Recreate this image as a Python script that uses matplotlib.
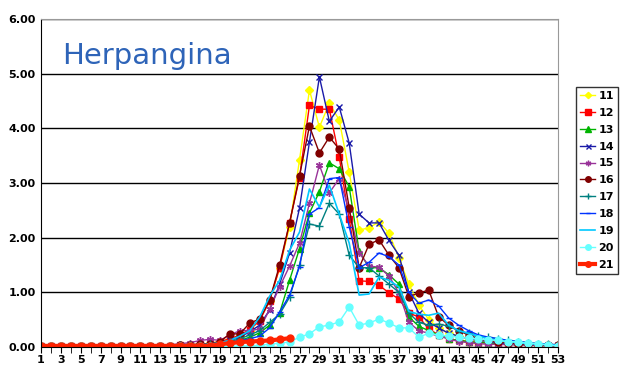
import numpy as np
import matplotlib
matplotlib.use('Agg')
import matplotlib.pyplot as plt

weeks = list(range(1, 54))

# weekly values per year
s11 = [0.02,0.02,0.01,0.01,0.01,0.01,0.01,0.01,0.01,0.01,0.01,0.01,0.02,0.02,0.03,0.04,0.05,0.07,
       0.10,0.15,0.20,0.30,0.50,0.85,1.45,2.20,3.42,4.70,4.02,4.46,4.15,3.20,2.14,2.18,2.29,2.08,
       1.63,1.15,0.77,0.50,0.35,0.25,0.20,0.15,0.12,0.10,0.08,0.07,0.05,0.05,0.04,0.03,0.03]
s12 = [0.02,0.02,0.02,0.01,0.01,0.01,0.01,0.01,0.01,0.01,0.01,0.01,0.02,0.02,0.03,0.04,0.05,0.06,
       0.10,0.15,0.22,0.32,0.48,0.85,1.45,2.27,3.10,4.42,4.35,4.35,3.47,2.34,1.21,1.20,1.13,0.99,
       0.88,0.62,0.55,0.33,0.22,0.15,0.12,0.10,0.08,0.08,0.06,0.05,0.05,0.04,0.03,0.02,0.02]
s13 = [0.01,0.01,0.01,0.01,0.01,0.01,0.01,0.01,0.01,0.01,0.01,0.01,0.01,0.02,0.02,0.03,0.03,0.04,
       0.06,0.08,0.12,0.18,0.26,0.40,0.62,1.22,1.80,2.45,2.84,3.37,3.26,2.93,1.75,1.45,1.45,1.32,
       1.15,0.55,0.38,0.30,0.22,0.15,0.12,0.10,0.08,0.07,0.06,0.05,0.04,0.04,0.03,0.03,0.02]
s14 = [0.01,0.01,0.01,0.01,0.01,0.01,0.01,0.01,0.01,0.01,0.01,0.01,0.02,0.02,0.03,0.04,0.05,0.06,
       0.08,0.12,0.18,0.28,0.40,0.68,1.15,1.72,2.54,3.75,4.94,4.13,4.39,3.73,2.43,2.27,2.27,1.95,
       1.68,1.00,0.62,0.45,0.35,0.25,0.20,0.15,0.12,0.10,0.08,0.06,0.05,0.05,0.04,0.03,0.03]
s15 = [0.01,0.01,0.01,0.01,0.01,0.01,0.01,0.01,0.01,0.01,0.02,0.02,0.03,0.04,0.06,0.08,0.12,0.14,
       0.12,0.22,0.30,0.30,0.33,0.69,1.10,1.48,1.90,2.63,3.33,2.82,3.08,2.50,1.72,1.48,1.46,1.30,
       0.99,0.45,0.30,0.25,0.20,0.15,0.10,0.08,0.06,0.05,0.05,0.04,0.04,0.03,0.03,0.02,0.02]
s16 = [0.01,0.01,0.01,0.01,0.01,0.01,0.01,0.01,0.01,0.01,0.01,0.01,0.02,0.02,0.03,0.04,0.05,0.06,
       0.10,0.24,0.24,0.44,0.51,0.86,1.50,2.27,3.13,4.04,3.55,3.84,3.62,2.55,1.45,1.88,1.96,1.68,
       1.45,0.92,0.99,1.04,0.55,0.40,0.30,0.22,0.15,0.12,0.10,0.08,0.06,0.05,0.04,0.03,0.03]
s17 = [0.01,0.01,0.01,0.01,0.01,0.01,0.01,0.01,0.01,0.01,0.01,0.01,0.02,0.02,0.03,0.03,0.04,0.05,
       0.06,0.10,0.15,0.22,0.30,0.45,0.60,0.91,1.50,2.25,2.21,2.63,2.43,1.68,1.45,1.45,1.30,1.15,
       1.00,0.62,0.45,0.40,0.42,0.38,0.30,0.25,0.20,0.18,0.15,0.12,0.10,0.08,0.06,0.05,0.04]
s18 = [0.01,0.01,0.01,0.01,0.01,0.01,0.01,0.01,0.01,0.01,0.01,0.01,0.02,0.02,0.02,0.03,0.04,0.04,
       0.05,0.08,0.12,0.15,0.20,0.35,0.64,0.95,1.47,2.43,2.55,3.08,3.10,2.20,1.45,1.55,1.72,1.65,
       1.50,1.00,0.80,0.86,0.75,0.53,0.40,0.30,0.22,0.18,0.15,0.12,0.10,0.08,0.06,0.05,0.04]
s19 = [0.01,0.01,0.01,0.01,0.01,0.01,0.01,0.01,0.01,0.01,0.01,0.01,0.02,0.02,0.02,0.03,0.04,0.05,
       0.08,0.12,0.20,0.30,0.55,0.93,1.22,1.77,2.10,2.89,2.56,2.96,2.43,1.90,0.95,0.97,1.28,1.22,
       1.10,0.65,0.60,0.58,0.62,0.40,0.30,0.25,0.20,0.15,0.12,0.10,0.08,0.06,0.05,0.04,0.03]
s20 = [0.01,0.01,0.01,0.01,0.01,0.01,0.01,0.01,0.01,0.01,0.01,0.01,0.01,0.01,0.01,0.01,0.01,0.01,
       0.01,0.01,0.02,0.02,0.03,0.05,0.07,0.09,0.18,0.24,0.37,0.40,0.46,0.73,0.40,0.44,0.51,0.44,
       0.35,0.35,0.18,0.25,0.22,0.20,0.18,0.16,0.15,0.13,0.12,0.10,0.09,0.07,0.06,0.04,0.02]
s21 = [0.02,0.02,0.02,0.02,0.02,0.02,0.02,0.02,0.02,0.02,0.02,0.02,0.02,0.02,0.02,0.02,0.02,0.02,
       0.05,0.07,0.09,0.10,0.11,0.12,0.14,0.16] + [np.nan] * 27

labels = ['11', '12', '13', '14', '15', '16', '17', '18', '19', '20', '21']
series = [s11, s12, s13, s14, s15, s16, s17, s18, s19, s20, s21]

colors = ['#ffff00', '#ff0000', '#00b400', '#1a1aa8', '#993399', '#800000',
          '#008080', '#0033ff', '#00c8ff', '#66ffff', '#ff2200']
markers = ['D', 's', '^', 'x', (6, 2, 0), 'o', '+', '_', None, 'o', 'o']
msizes = [4, 5, 5, 4.5, 5, 5, 6, 4, 0, 5, 5]
lwidths = [1, 1, 1, 1, 1, 1, 1, 1, 1.2, 1, 3]

fig = plt.figure(figsize=(6.2, 3.84), dpi=100)
ax = fig.add_axes([41/620, 37/384, 517/620, 328/384])

for y, lab, c, m, ms, lw in zip(series, labels, colors, markers, msizes, lwidths):
    ax.plot(weeks, y, color=c, marker=m, markersize=ms, linewidth=lw,
            markeredgewidth=1, label=lab)

ax.set_xlim(1, 53)
ax.set_ylim(0, 6)
ax.set_yticks(np.arange(0, 6.01, 1))
ax.set_yticklabels(['%.2f' % v for v in np.arange(0, 6.01, 1)],
                   fontweight='bold', fontsize=8)
ax.set_xticks(range(1, 54, 2))
ax.set_xticklabels([str(w) for w in range(1, 54, 2)], fontweight='bold', fontsize=8)
ax.set_xticks(range(1, 54), minor=True)
ax.tick_params(axis='x', which='both', direction='out', length=4, pad=2)
ax.tick_params(axis='y', length=0, pad=4)
ax.grid(axis='y', color='black', linewidth=1)
ax.set_axisbelow(True)
ax.spines['top'].set_color('#999999')
ax.spines['right'].set_color('#999999')

ax.text(0.04, 0.93, 'Herpangina', transform=ax.transAxes, color='#2e64b8',
        fontsize=21, va='top', ha='left')

leg = fig.legend(loc='upper left', bbox_to_anchor=(576/620, 1 - 87/384),
                 frameon=True, fancybox=False, edgecolor='black',
                 prop={'weight': 'bold', 'size': 8}, handlelength=1.4,
                 borderpad=0.35, labelspacing=0.62, handletextpad=0.25,
                 borderaxespad=0, markerscale=0.8)
leg.get_frame().set_linewidth(1)

fig.savefig('out.png', dpi=100)
